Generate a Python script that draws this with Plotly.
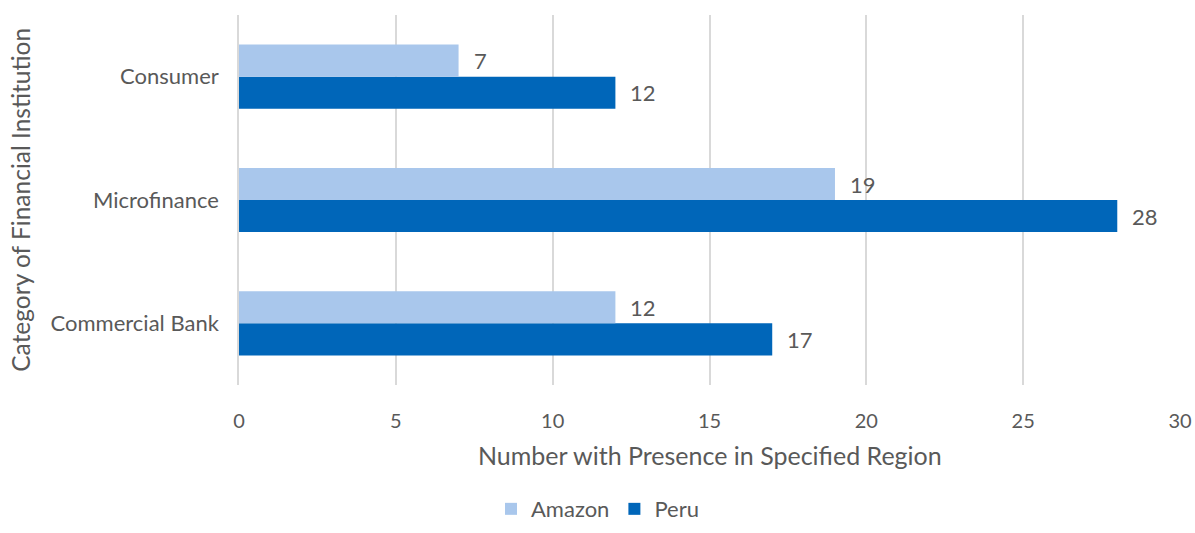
import plotly.graph_objects as go

categories = ["Commercial Bank", "Microfinance", "Consumer"]
amazon = [12, 19, 7]
peru = [17, 28, 12]
x_ticks = [0, 5, 10, 15, 20, 25, 30]

AMAZON_COLOR = "#A9C7EC"
PERU_COLOR = "#0066B9"
TEXT_COLOR = "#595959"
GRID_COLOR = "#D9D9D9"
FONT = "Lato, 'Open Sans', sans-serif"

fig = go.Figure()
# Peru first so it sits below Amazon within each group
fig.add_trace(go.Bar(name="Peru", y=categories, x=peru, orientation="h",
                     marker=dict(color=PERU_COLOR, line=dict(width=0))))
fig.add_trace(go.Bar(name="Amazon", y=categories, x=amazon, orientation="h",
                     marker=dict(color=AMAZON_COLOR, line=dict(width=0))))

annotations = []
for cat, a, p in zip(categories, amazon, peru):
    annotations.append(dict(x=a, y=cat, xref="x", yref="y", text=str(a),
                            showarrow=False, xanchor="left", xshift=13, yshift=16,
                            font=dict(size=22, color=TEXT_COLOR, family=FONT)))
    annotations.append(dict(x=p, y=cat, xref="x", yref="y", text=str(p),
                            showarrow=False, xanchor="left", xshift=13, yshift=-16,
                            font=dict(size=22, color=TEXT_COLOR, family=FONT)))

# axis titles
annotations.append(dict(x=0.5, y=-0.189, xref="paper", yref="paper",
                        text="Number with Presence in Specified Region",
                        showarrow=False, xanchor="center", yanchor="middle",
                        font=dict(size=25, color=TEXT_COLOR, family=FONT)))
annotations.append(dict(x=-0.233, y=0.5, xref="paper", yref="paper",
                        text="Category of Financial Institution", textangle=-90,
                        showarrow=False, xanchor="center", yanchor="middle",
                        font=dict(size=24.5, color=TEXT_COLOR, family=FONT)))

fig.update_layout(
    width=1195, height=533,
    margin=dict(l=239, r=15, t=15, b=148, autoexpand=False),
    paper_bgcolor="white", plot_bgcolor="white",
    barmode="group", bargap=0.48, bargroupgap=0,
    font=dict(family=FONT, color=TEXT_COLOR, size=20),
    showlegend=True,
    legend=dict(orientation="h", x=0.381, xanchor="center", y=-0.392, yanchor="bottom",
                traceorder="reversed", font=dict(size=22, color=TEXT_COLOR, family=FONT),
                itemwidth=30),
    annotations=annotations,
    xaxis=dict(range=[0, 30], tickvals=x_ticks, showgrid=True, gridcolor=GRID_COLOR,
               gridwidth=1.5, zeroline=False, showline=False, ticks="",
               ticklabelstandoff=22, tickfont=dict(size=20, color=TEXT_COLOR)),
    yaxis=dict(showgrid=False, zeroline=False, showline=True, linecolor=GRID_COLOR,
               linewidth=1.5, ticks="", ticklabelstandoff=14,
               tickfont=dict(size=22, color=TEXT_COLOR)),
)

fig.write_html("out.html")
